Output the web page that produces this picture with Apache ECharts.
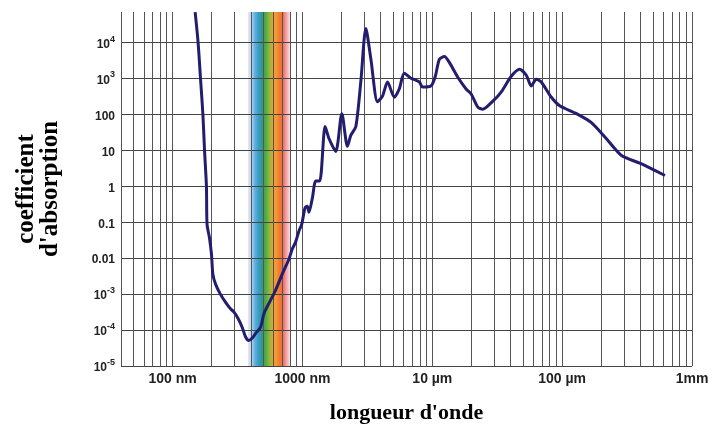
<!DOCTYPE html>
<html>
<head>
<meta charset="utf-8">
<script src="https://cdn.jsdelivr.net/npm/echarts@6/dist/echarts.min.js"></script>
<style>
    html, body { margin: 0; padding: 0; background: #fff; }
    #chart { width: 721px; height: 429px; }
</style>
</head>
<body>
<div id="chart"></div>
<script>
    // longueur d'onde (nm) et coefficient d'absorption
    var wavelengthNm = [149, 157, 164, 171, 176, 182, 184, 192, 199, 204, 214, 233, 255, 279, 296, 319, 343, 364, 386, 409,
        436, 475, 505, 551, 621, 698, 787, 834, 885, 940, 986, 1045, 1089, 1122, 1191, 1265, 1358, 1493, 1603, 1803,
        2009, 2218, 2355, 2576, 2812, 3076, 3365, 3784, 4130, 4519, 5093, 5559, 6081, 6855, 7943, 8414, 9772, 10544, 11324, 12388,
        13521, 15668, 18197, 19907, 22387, 24434, 29242, 33884, 40551, 46989, 52966, 57810, 63241, 69024, 82604, 95719, 128825, 167880, 219280, 286418,
        396278, 619441];
    var absorption = [70000, 10000, 955, 98, 10, 1.0, 0.087, 0.037, 0.013, 0.0036, 0.0019, 0.001, 0.0006, 0.00039, 0.00032, 0.00021, 0.00012, 0.000065, 0.000051, 0.000059,
        0.000081, 0.00012, 0.00029, 0.00055, 0.0013, 0.0036, 0.0095, 0.018, 0.028, 0.058, 0.087, 0.25, 0.28, 0.19, 0.47, 1.4, 1.4, 46, 21, 9.3,
        105, 13, 26, 46, 800, 24500, 3400, 224, 324, 800, 300, 510, 1400, 1020, 800, 575, 620, 1150, 3400, 4100,
        2800, 1100, 510, 370, 160, 140, 235, 420, 1150, 1800, 1230, 620, 955, 800, 300, 174, 105, 59, 21, 7.2,
        4.4, 2.0];

    // graduations
    var xDecadesNm = [10, 100, 1000, 10000, 100000];
    var xLabelNm = [100, 1000, 10000, 100000, 1000000];
    var xLabelText = ['100 nm', '1000 nm', '10 \u00b5m', '100 \u00b5m', '1mm'];
    var yTickExp = [-5, -4, -3, -2, -1, 0, 1, 2, 3, 4];
    var yLabelText = [['10', '-5'], ['10', '-4'], ['10', '-3'], ['0.01'], ['0.1'], ['1'], ['10'], ['100'], ['10', '3'], ['10', '4']];

    // spectre visible
    var spectrumNm = [380, 800];
    var spectrumColors = ['#ece6f3', '#b9d3ee', '#5eb0de', '#3a9cc8', '#2f9a8a', '#4ba84b', '#86b83a', '#d7a534',
        '#f29a32', '#ef7b33', '#ee6c45', '#f3a3ae', '#fbd9de'];

    var log10 = Math.log10;

    var xGrid = [];
    xDecadesNm.forEach(function (d) {
        for (var k = 1; k <= 9; k++) {
            var v = d * k;
            if (v >= 40) xGrid.push(log10(v));
        }
    });
    xGrid.push(6);

    var lineData = wavelengthNm.map(function (w, i) {
        return [log10(w), log10(absorption[i])];
    });

    var stops = spectrumColors.map(function (c, i) {
        return { offset: i / (spectrumColors.length - 1), color: c };
    });

    var myChart = echarts.init(document.getElementById('chart'));
    myChart.setOption({
        animation: false,
        grid: { left: 121, right: 29, top: 12, bottom: 59 },
        xAxis: {
            type: 'value',
            min: log10(40),
            max: 6,
            z: 2,
            name: "longueur d'onde",
            nameLocation: 'middle',
            nameGap: 36,
            nameTextStyle: { fontFamily: 'Liberation Serif', fontWeight: 'bold', fontSize: 22, color: '#000' },
            axisLine: { show: false },
            axisTick: { show: false, customValues: xGrid },
            splitLine: { show: true, lineStyle: { color: '#555', width: 1 } },
            axisLabel: {
                customValues: xLabelNm.map(log10),
                margin: 6,
                fontFamily: 'Liberation Sans',
                fontWeight: 'bold',
                fontSize: 14,
                color: '#222',
                formatter: function (v) {
                    var i = xLabelNm.findIndex(function (n) { return Math.abs(log10(n) - v) < 1e-6; });
                    return i >= 0 ? xLabelText[i] : '';
                }
            }
        },
        yAxis: {
            type: 'value',
            min: -5,
            max: 4.85,
            z: 2,
            name: "coefficient\nd'absorption",
            nameLocation: 'middle',
            nameRotate: 90,
            nameGap: 58,
            nameTextStyle: { fontFamily: 'Liberation Serif', fontWeight: 'bold', fontSize: 25, lineHeight: 24, color: '#000' },
            axisLine: { show: false },
            axisTick: { show: false, customValues: yTickExp },
            splitLine: { show: true, lineStyle: { color: '#444', width: 1 } },
            axisLabel: {
                customValues: yTickExp,
                margin: 6,
                formatter: function (v) {
                    var t = yLabelText[yTickExp.indexOf(Math.round(v))];
                    if (!t) return '';
                    return t.length > 1 ? '{b|' + t[0] + '}{s|' + t[1] + '}' : '{b|' + t[0] + '}';
                },
                rich: {
                    b: { fontFamily: 'Liberation Sans', fontWeight: 'bold', fontSize: 12, color: '#222', lineHeight: 16, verticalAlign: 'bottom' },
                    s: { fontFamily: 'Liberation Sans', fontWeight: 'bold', fontSize: 9, color: '#222', lineHeight: 16, verticalAlign: 'top', padding: [0, 0, 6, 0] }
                }
            }
        },
        series: [
            {
                type: 'line',
                z: 1,
                data: [],
                silent: true,
                markArea: {
                    silent: true,
                    z: 1,
                    itemStyle: {
                        color: new echarts.graphic.LinearGradient(0, 0, 1, 0, stops)
                    },
                    data: [[{ xAxis: log10(spectrumNm[0]) }, { xAxis: log10(spectrumNm[1]) }]]
                }
            },
            {
                name: 'absorption',
                type: 'line',
                z: 3,
                data: lineData,
                smooth: 0.25,
                showSymbol: false,
                clip: true,
                lineStyle: { color: '#221d6e', width: 3 }
            }
        ]
    });
</script>
</body>
</html>
